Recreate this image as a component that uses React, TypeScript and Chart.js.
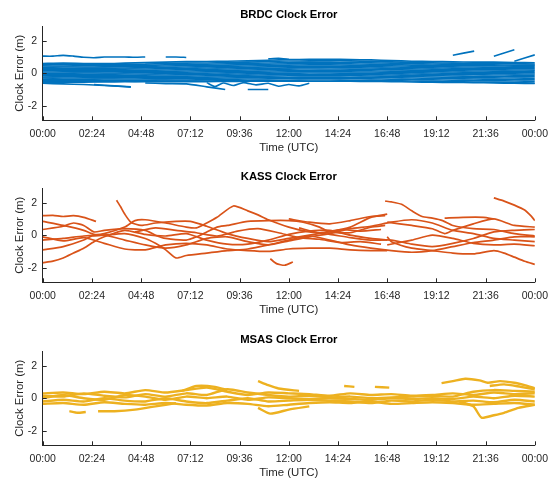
import React, { useEffect, useRef } from 'react';
import { Chart, registerables } from 'chart.js';

Chart.register(...registerables);

// ---------- axes ----------
const HOURS = [0, 1, 2, 3, 4, 5, 6, 7, 8, 9, 10, 11, 12, 13, 14, 15, 16, 17, 18, 19, 20, 21, 22, 23, 24];
const X_TICKS = [0, 2.4, 4.8, 7.2, 9.6, 12, 14.4, 16.8, 19.2, 21.6, 24];
const X_TICK_LABELS = ['00:00', '02:24', '04:48', '07:12', '09:36', '12:00', '14:24', '16:48', '19:12', '21:36', '00:00'];
const Y_TICKS = [-2, 0, 2];
const Y_MIN = -2.9;
const Y_MAX = 2.9;

const TITLES = ['BRDC Clock Error', 'KASS Clock Error', 'MSAS Clock Error'];
const X_LABEL = 'Time (UTC)';
const Y_LABEL = 'Clock Error (m)';

type Pt = [number, number];
type Val = number | null;

// ---------- BRDC (hourly values, m) ----------
const BRDC_1: Val[] = [0.6, 0.62, 0.6, 0.59, 0.62, 0.65, 0.68, 0.71, 0.72, 0.74, 0.76, 0.8, 0.84, 0.85, 0.86, 0.84, 0.82, 0.78, 0.74, 0.72, 0.7, 0.68, 0.68, 0.66, 0.64];
const BRDC_2: Val[] = [0.52, 0.53, 0.54, 0.52, 0.55, 0.56, 0.6, 0.62, 0.63, 0.66, 0.68, 0.72, 0.75, 0.76, 0.77, 0.76, 0.73, 0.7, 0.66, 0.64, 0.62, 0.61, 0.6, 0.58, 0.57];
const BRDC_3: Val[] = [0.45, 0.44, 0.46, 0.45, 0.47, 0.48, 0.52, 0.54, 0.55, 0.58, 0.6, 0.63, 0.66, 0.68, 0.68, 0.67, 0.64, 0.62, 0.58, 0.57, 0.55, 0.54, 0.52, 0.5, 0.5];
const BRDC_4: Val[] = [0.37, 0.38, 0.38, 0.39, 0.4, 0.41, 0.44, 0.46, 0.47, 0.5, 0.52, 0.55, 0.58, 0.6, 0.59, 0.58, 0.56, 0.54, 0.5, 0.49, 0.47, 0.46, 0.45, 0.43, 0.42];
const BRDC_5: Val[] = [0.3, 0.3, 0.31, 0.31, 0.32, 0.34, 0.36, 0.38, 0.4, 0.42, 0.44, 0.47, 0.5, 0.51, 0.51, 0.5, 0.48, 0.46, 0.43, 0.41, 0.39, 0.38, 0.37, 0.36, 0.35];
const BRDC_6: Val[] = [0.22, 0.23, 0.23, 0.24, 0.25, 0.26, 0.28, 0.3, 0.32, 0.34, 0.36, 0.39, 0.41, 0.43, 0.43, 0.42, 0.4, 0.38, 0.35, 0.33, 0.31, 0.3, 0.29, 0.28, 0.27];
const BRDC_7: Val[] = [0.15, 0.15, 0.16, 0.16, 0.17, 0.18, 0.2, 0.22, 0.24, 0.26, 0.28, 0.3, 0.33, 0.34, 0.35, 0.34, 0.32, 0.3, 0.27, 0.25, 0.23, 0.22, 0.21, 0.2, 0.19];
const BRDC_8: Val[] = [0.07, 0.08, 0.08, 0.09, 0.1, 0.11, 0.12, 0.14, 0.16, 0.18, 0.2, 0.22, 0.25, 0.26, 0.26, 0.25, 0.24, 0.22, 0.19, 0.17, 0.15, 0.14, 0.13, 0.12, 0.11];
const BRDC_9: Val[] = [0, 0, 0.01, 0.01, 0.02, 0.03, 0.05, 0.06, 0.08, 0.1, 0.12, 0.14, 0.16, 0.17, 0.18, 0.17, 0.15, 0.13, 0.11, 0.09, 0.07, 0.06, 0.05, 0.04, 0.03];
const BRDC_10: Val[] = [-0.08, -0.07, -0.07, -0.06, -0.05, -0.05, -0.03, -0.02, 0, 0.02, 0.04, 0.06, 0.08, 0.09, 0.09, 0.08, 0.07, 0.05, 0.03, 0.01, -0.01, -0.02, -0.03, -0.04, -0.05];
const BRDC_11: Val[] = [-0.15, -0.15, -0.14, -0.14, -0.13, -0.12, -0.11, -0.1, -0.08, -0.06, -0.04, -0.02, 0, 0.01, 0.01, 0, -0.01, -0.03, -0.05, -0.07, -0.09, -0.1, -0.11, -0.12, -0.13];
const BRDC_12: Val[] = [-0.23, -0.22, -0.22, -0.21, -0.2, -0.2, -0.19, -0.18, -0.16, -0.14, -0.12, -0.1, -0.08, -0.08, -0.07, -0.08, -0.09, -0.11, -0.13, -0.15, -0.17, -0.19, -0.2, -0.21, -0.22];
const BRDC_13: Val[] = [-0.3, -0.3, -0.29, -0.29, -0.28, -0.27, -0.27, -0.26, -0.24, -0.22, -0.2, -0.18, -0.16, -0.16, -0.15, -0.16, -0.17, -0.19, -0.21, -0.23, -0.26, -0.28, -0.29, -0.3, -0.31];
const BRDC_14: Val[] = [-0.38, -0.37, -0.37, -0.36, -0.36, -0.35, -0.35, -0.34, -0.32, -0.3, -0.28, -0.26, -0.25, -0.24, -0.24, -0.25, -0.26, -0.28, -0.3, -0.32, -0.34, -0.36, -0.38, -0.39, -0.4];
const BRDC_15: Val[] = [-0.45, -0.45, -0.44, -0.44, -0.43, -0.43, -0.42, -0.42, -0.4, -0.38, -0.36, -0.35, -0.34, -0.33, -0.33, -0.34, -0.35, -0.37, -0.39, -0.41, -0.43, -0.45, -0.47, -0.48, -0.5];
const BRDC_16: Val[] = [-0.52, -0.52, -0.51, -0.5, -0.5, -0.5, -0.49, -0.49, -0.48, -0.47, -0.45, -0.44, -0.43, -0.42, -0.42, -0.43, -0.44, -0.46, -0.48, -0.5, -0.52, -0.54, -0.56, -0.58, -0.6];
const BRDC_17: Val[] = [-0.56, -0.55, -0.55, -0.54, -0.53, -0.53, -0.52, -0.52, -0.52, -0.51, -0.5, -0.5, -0.5, -0.5, -0.5, -0.5, -0.51, -0.52, -0.54, -0.56, -0.57, -0.58, -0.6, -0.62, -0.63];
const BRDC_BAND = [BRDC_1, BRDC_2, BRDC_3, BRDC_4, BRDC_5, BRDC_6, BRDC_7, BRDC_8, BRDC_9, BRDC_10, BRDC_11, BRDC_12, BRDC_13, BRDC_14, BRDC_15, BRDC_16, BRDC_17];

// BRDC arcs outside the main band: [hour, metres]
const BRDC_HIGH_A: Pt[] = [[0, 1.05], [0.5, 1.05], [1, 1.1], [1.5, 1.05], [2, 0.98], [2.5, 0.95], [3, 1.0], [3.5, 1.0], [4, 1.0], [4.5, 0.98], [5, 1.0]];
const BRDC_HIGH_B: Pt[] = [[6.0, 1.0], [6.5, 1.0], [7.0, 0.97]];
const BRDC_HIGH_C: Pt[] = [[11.0, 0.88], [11.5, 0.92], [12.0, 0.86]];
const BRDC_LOW_A: Pt[] = [[0, -0.62], [1, -0.66], [2, -0.7], [3, -0.76], [4.3, -0.83]];
const BRDC_LOW_B: Pt[] = [[2.5, -0.7], [3.5, -0.78], [4.3, -0.86]];
const BRDC_LOW_C: Pt[] = [[5.0, -0.6], [6, -0.64], [7, -0.66], [8, -0.84], [8.9, -1.0]];
const BRDC_LOW_D: Pt[] = [[8, -0.58], [8.4, -0.82], [8.8, -0.6], [9.3, -0.76], [9.8, -0.58], [10.4, -0.72], [11, -0.62], [11.5, -0.8], [12, -0.7], [12.5, -0.78], [13, -0.62]];
const BRDC_LOW_E: Pt[] = [[10, -1.0], [11, -1.0]];
const BRDC_RISE_A: Pt[] = [[20, 1.11], [21.04, 1.36]];
const BRDC_RISE_B: Pt[] = [[22, 1.05], [23, 1.44]];
const BRDC_RISE_C: Pt[] = [[23, 0.74], [24, 1.13]];
const BRDC_ARCS = [BRDC_HIGH_A, BRDC_HIGH_B, BRDC_HIGH_C, BRDC_LOW_A, BRDC_LOW_B, BRDC_LOW_C, BRDC_LOW_D, BRDC_LOW_E, BRDC_RISE_A, BRDC_RISE_B, BRDC_RISE_C];

// ---------- KASS: [hour, metres] ----------
const KASS_1: Pt[] = [[0, 1.2], [0.5, 1.22], [1, 1.15], [1.5, 1.2], [2, 1.1], [2.6, 0.85]];
const KASS_2: Pt[] = [[0, 0.85], [1, 0.6], [2, 0.3], [2.5, 0.05], [3, 0.1], [4, 0.5], [4.5, 0.9], [5, 0.95], [6, 0.75], [7, 0.5], [7.5, 0.45], [8, 0.75], [8.5, 1.1], [9.3, 1.8], [10, 1.5], [10.5, 1.25], [11, 0.95], [12, 0.5], [13, 0.2], [14, 0.05], [15, -0.15], [16, -0.3], [17, -0.3], [18, -0.55], [19, -0.7], [20, -0.5], [21, -0.2], [22, 0.2], [23, 0.3], [24, 0.35]];
const KASS_3: Pt[] = [[0, 0.35], [1, 0.55], [1.5, 0.75], [2, 0.6], [2.5, 0.2], [3, 0.3], [4, 0.4], [5, 0.3], [5.5, 0.0], [6, -0.2], [7, -0.3], [7.5, -0.1], [8, 0.2], [8.5, 0.5], [9, 0.6], [10, 0.85], [11, 0.9], [12, 0.9], [12.7, 0.8], [13.5, 0.5], [14, 0.2], [15, 0.15], [16, 0.5], [16.7, 0.6]];
const KASS_4: Pt[] = [[3.6, 2.15], [3.8, 1.75], [4.0, 1.3], [4.3, 0.8], [4.8, 0.6], [5.5, 0.75], [6.5, 0.85], [7.2, 0.85], [8, 0.55], [9, 0.1], [10, -0.2], [11, -0.4], [12, -0.2], [13, 0.0], [14, 0.2], [15, 0.5], [16, 1.1], [16.8, 1.3]];
const KASS_5: Pt[] = [[0, -0.3], [1, -0.2], [2, -0.05], [3, 0.0], [4, -0.3], [5, -0.6], [6, -0.8], [7, -0.6], [8, -0.2], [9, -0.1], [10, -0.4], [11, -0.6], [12, -0.35], [13, -0.1], [14, 0.1], [15, 0.4], [16, 0.55], [17, 0.8], [18, 0.95], [19, 0.75], [20, 0.3], [21, 0.1], [22, -0.2], [23, -0.3], [24, -0.4]];
const KASS_6: Pt[] = [[0, -0.9], [1, -0.7], [2, -0.3], [2.4, -0.05], [3, 0.0], [4, 0.1], [5, -0.2], [5.5, -0.5], [6, -0.9], [6.5, -1.4], [7, -1.25], [8, -1.1], [9, -0.95], [10, -0.85], [11, -0.6], [12, -0.3], [13, -0.05], [14, -0.3], [15, -0.6], [16, -0.8], [17, -0.95], [18, -1.05], [19, -0.95], [20, -0.7], [21, -0.45], [22, -0.3], [23, -0.1], [24, -0.1]];
const KASS_7: Pt[] = [[0, -1.7], [0.5, -1.6], [1, -1.4], [1.5, -1.1], [2, -0.8], [2.5, -0.4], [3, -0.1], [4, 0.3], [5, 0.05], [6, -0.05], [7, 0.1], [8, -0.3], [9, -0.55], [10, -0.55], [11, -0.3], [12, 0.05], [13, 0.25], [14, 0.3], [15, 0.0], [16, -0.2], [16.8, -0.3]];
const KASS_8: Pt[] = [[0, -0.1], [1, -0.35], [2, -0.15], [3, -0.5], [4, -0.85], [5, -0.9], [6, -0.6], [7, -0.5], [8, -0.6], [9, -0.85], [10, -0.95], [11, -1.0], [12, -0.85], [13, -0.8], [14, -0.8], [15, -0.9], [16, -0.95], [16.8, -0.95]];
const KASS_9: Pt[] = [[11.1, -1.45], [11.4, -1.75], [11.8, -1.85], [12.2, -1.65]];
const KASS_10: Pt[] = [[16.7, 2.1], [17, 2.05], [17.5, 1.9], [18, 1.5], [18.5, 1.15], [19, 1.05], [19.5, 0.9], [20, 0.6], [21, 0.4], [22, 0.35], [23, 0.1], [24, -0.05]];
const KASS_11: Pt[] = [[22, 2.3], [22.5, 2.1], [23, 1.85], [23.5, 1.55], [23.8, 1.2], [24, 0.9]];
const KASS_12: Pt[] = [[16.8, -0.1], [17, -0.4], [18, -0.8], [19, -0.95], [20, -1.1], [21, -1.15], [22, -0.95], [22.5, -1.1], [23, -1.35], [23.5, -1.6], [24, -1.8]];
const KASS_13: Pt[] = [[16.8, 0.8], [18, 0.6], [19, 0.4], [19.6, 0.1], [20, 0.3], [21, 0.7], [22, 1.0], [23, 0.6], [24, 0.5]];
const KASS_14: Pt[] = [[19.6, 1.05], [20.5, 1.1], [21.5, 1.1], [22, 1.0]];
const KASS_15: Pt[] = [[12, 1.0], [13, 0.8], [14, 0.7], [15, 0.9], [16, 1.15], [16.7, 1.2]];
const KASS_16: Pt[] = [[16.8, -0.6], [18, -0.3], [19, 0.0], [20, -0.2], [21, -0.5], [22, -0.6], [23, -0.55], [24, -0.65]];
const KASS_17: Pt[] = [[4.5, 0.2], [5.5, 0.45], [6.5, 0.3], [7.5, 0.15], [8.5, -0.05], [9.5, 0.25], [10.5, 0.4], [11.5, 0.15], [12.5, -0.15], [13.5, -0.25], [14.5, -0.45], [15.5, -0.4], [16.5, -0.55]];
const KASS_18: Pt[] = [[12.5, 0.45], [13.5, 0.15], [14.5, 0.35], [15.5, 0.25], [16.5, 0.35]];
const KASS_TRACES = [KASS_1, KASS_2, KASS_3, KASS_4, KASS_5, KASS_6, KASS_7, KASS_8, KASS_9, KASS_10, KASS_11, KASS_12, KASS_13, KASS_14, KASS_15, KASS_16, KASS_17, KASS_18];

// ---------- MSAS: [hour, metres] ----------
const MSAS_1: Pt[] = [[0, 0.3], [1, 0.35], [2, 0.25], [3, 0.4], [4, 0.3], [5, 0.5], [6, 0.35], [7, 0.5], [8, 0.65], [9, 0.4], [10, 0.2], [11, 0.35], [12, 0.3], [13, 0.25], [14, 0.15], [15, 0.3], [16, 0.2], [17, 0.25], [18, 0.15], [19, 0.2], [20, 0.3], [21, 0.2], [22, 0.35], [23, 0.25], [24, 0.3]];
const MSAS_2: Pt[] = [[0, 0.15], [1, 0.1], [2, 0.3], [3, 0.15], [4, 0.05], [5, 0.25], [6, 0.1], [7, 0.3], [8, 0.2], [9, 0.55], [10, 0.35], [11, 0.2], [12, 0.1], [13, 0.15], [14, 0.05], [15, 0.1], [16, 0.0], [17, 0.05], [18, 0.1], [19, 0.15], [20, 0.1], [21, 0.4], [22, 0.5], [23, 0.45], [24, 0.4]];
const MSAS_3: Pt[] = [[0, 0.0], [1, 0.2], [2, 0.0], [3, -0.1], [4, 0.2], [5, 0.1], [6, -0.1], [7, 0.1], [8, 0.0], [9, 0.1], [10, -0.1], [11, 0.05], [12, 0.0], [13, -0.05], [14, 0.0], [15, -0.05], [16, -0.1], [17, 0.0], [18, -0.05], [19, 0.0], [20, -0.05], [21, 0.1], [22, 0.0], [23, 0.15], [24, 0.1]];
const MSAS_4: Pt[] = [[0, -0.2], [1, -0.1], [2, -0.2], [3, 0.0], [4, -0.15], [5, -0.2], [6, 0.0], [7, -0.2], [8, -0.3], [9, -0.15], [10, 0.0], [11, -0.2], [12, -0.15], [13, -0.1], [14, -0.15], [15, -0.2], [16, -0.3], [17, -0.15], [18, -0.2], [19, -0.1], [20, -0.2], [21, -0.15], [22, -0.25], [23, -0.1], [24, -0.2]];
const MSAS_5: Pt[] = [[0, -0.35], [1, -0.3], [2, -0.4], [3, -0.25], [4, -0.35], [5, -0.4], [6, -0.3], [7, -0.4], [8, -0.45], [9, -0.3], [10, -0.35], [11, -0.5], [12, -0.4], [13, -0.3], [14, -0.25], [15, -0.3], [16, -0.2], [17, -0.35], [18, -0.3], [19, -0.25], [20, -0.3], [21, -0.4], [22, -0.35], [23, -0.3], [24, -0.4]];
const MSAS_6: Pt[] = [[1.3, -0.8], [1.7, -0.9], [2.1, -0.85]];
const MSAS_7: Pt[] = [[2.7, -0.8], [3.5, -0.8], [4.5, -0.7], [5.5, -0.5], [6.5, -0.3]];
const MSAS_8: Pt[] = [[10.5, -0.6], [11.1, -0.95], [12, -0.7], [13, -0.5]];
const MSAS_9: Pt[] = [[6.8, 0.45], [7.5, 0.75], [8.4, 0.7], [9, 0.5]];
const MSAS_10: Pt[] = [[10.5, 1.05], [11, 0.8], [11.5, 0.6], [12.5, 0.45]];
const MSAS_11: Pt[] = [[14.7, 0.75], [15.2, 0.7]];
const MSAS_12: Pt[] = [[16.2, 0.7], [16.9, 0.65]];
const MSAS_13: Pt[] = [[19.45, 0.93], [20, 1.05], [20.6, 1.2], [21.3, 1.1], [21.7, 0.95], [22.3, 1.05], [23, 0.95], [23.5, 0.8], [24, 0.62]];
const MSAS_14: Pt[] = [[21.8, 0.75], [22.5, 0.85], [23.3, 0.7], [24, 0.55]];
const MSAS_15: Pt[] = [[20.3, -0.2], [21, -0.5], [21.4, -1.2], [22, -1.05], [22.5, -0.9], [23.2, -0.6], [24, -0.4]];
const MSAS_TRACES = [MSAS_1, MSAS_2, MSAS_3, MSAS_4, MSAS_5, MSAS_6, MSAS_7, MSAS_8, MSAS_9, MSAS_10, MSAS_11, MSAS_12, MSAS_13, MSAS_14, MSAS_15];

// ---------- styling ----------
const COLORS = ['#0072BD', '#D95319', '#EDB120'];
const AXIS_COLOR = '#262626';
const TEXT_COLOR = '#262626';
const FONT = '"Liberation Sans", Arial, Helvetica, sans-serif';

const fromGrid = (vals: Val[]) => vals.map((v, i) => ({ x: HOURS[i], y: v }));
const fromPts = (pts: Pt[]) => pts.map(([x, y]) => ({ x, y }));

const decorPlugin = {
  id: 'decor',
  afterDraw(chart: any, _args: any, opts: any) {
    const { ctx, chartArea } = chart;
    const { left, right, top, bottom } = chartArea;
    const xs = chart.scales.x;
    const ys = chart.scales.y;
    ctx.save();
    ctx.strokeStyle = AXIS_COLOR;
    ctx.lineWidth = 1;
    ctx.beginPath();
    X_TICKS.forEach((v) => {
      const px = Math.round(xs.getPixelForValue(v)) + 0.5;
      ctx.moveTo(px, bottom);
      ctx.lineTo(px, bottom - 4);
    });
    Y_TICKS.forEach((v) => {
      const py = Math.round(ys.getPixelForValue(v)) + 0.5;
      ctx.moveTo(left, py);
      ctx.lineTo(left + 4, py);
    });
    ctx.stroke();
    ctx.textAlign = 'center';
    ctx.textBaseline = 'middle';
    ctx.fillStyle = '#000';
    ctx.font = `bold 11.3px ${FONT}`;
    ctx.fillText(opts.title, (left + right) / 2, 15);
    ctx.fillStyle = TEXT_COLOR;
    ctx.font = `11.4px ${FONT}`;
    ctx.fillText(X_LABEL, (left + right) / 2, 148);
    ctx.translate(20, (top + bottom) / 2);
    ctx.rotate(-Math.PI / 2);
    ctx.fillText(Y_LABEL, 0, 0);
    ctx.restore();
  },
};

type PanelProps = { top: number; title: string; color: string; datasets: { x: number; y: Val }[][]; lineWidth: number };

function Panel({ top, title, color, datasets, lineWidth }: PanelProps) {
  const ref = useRef<HTMLCanvasElement | null>(null);
  useEffect(() => {
    if (!ref.current) return;
    const chart = new Chart(ref.current, {
      type: 'line',
      data: {
        datasets: datasets.map((d) => ({
          data: d as any,
          borderColor: color,
          backgroundColor: color,
          borderWidth: lineWidth,
          pointRadius: 0,
          fill: false,
          tension: 0.2,
          spanGaps: false,
        })),
      },
      options: {
        animation: false,
        responsive: false,
        events: [],
        layout: { padding: { top: 26.1, right: 18.7, left: 0, bottom: 0 } },
        plugins: {
          legend: { display: false },
          title: { display: false },
          tooltip: { enabled: false },
          decor: { title },
        } as any,
        scales: {
          x: {
            type: 'linear',
            min: 0,
            max: 24,
            grid: { display: false, drawTicks: false },
            border: { display: true, color: AXIS_COLOR, width: 1 },
            ticks: {
              autoSkip: false,
              maxRotation: 0,
              padding: 8,
              color: TEXT_COLOR,
              font: { family: FONT, size: 10.5 },
              callback: (v: any) => {
                const i = X_TICKS.findIndex((t) => Math.abs(t - Number(v)) < 1e-6);
                return i >= 0 ? X_TICK_LABELS[i] : '';
              },
            },
            afterBuildTicks: (s: any) => {
              s.ticks = X_TICKS.map((value) => ({ value }));
            },
            afterFit: (s: any) => {
              s.height = 41.7;
            },
          },
          y: {
            type: 'linear',
            min: Y_MIN,
            max: Y_MAX,
            grid: { display: false, drawTicks: false },
            border: { display: true, color: AXIS_COLOR, width: 1 },
            ticks: {
              padding: 5.5,
              color: TEXT_COLOR,
              font: { family: FONT, size: 10.5 },
            },
            afterBuildTicks: (s: any) => {
              s.ticks = Y_TICKS.map((value) => ({ value }));
            },
            afterFit: (s: any) => {
              s.width = 42.7;
            },
          },
        },
      },
      plugins: [decorPlugin],
    });
    return () => chart.destroy();
  }, [title, color, datasets, lineWidth]);
  return (
    <canvas
      ref={ref}
      width={556}
      height={162}
      style={{ position: 'absolute', left: 0, top, width: 556, height: 162, display: 'block' }}
    />
  );
}

const BRDC_DATA = [...BRDC_BAND.map(fromGrid), ...BRDC_ARCS.map(fromPts)];
const KASS_DATA = KASS_TRACES.map(fromPts);
const MSAS_DATA = MSAS_TRACES.map(fromPts);

export default function App() {
  return (
    <div style={{ position: 'absolute', left: 0, top: 0, width: 556, height: 479, background: '#fff', overflow: 'hidden' }}>
      <Panel top={0} title={TITLES[0]} color={COLORS[0]} datasets={BRDC_DATA} lineWidth={1.6} />
      <Panel top={162} title={TITLES[1]} color={COLORS[1]} datasets={KASS_DATA} lineWidth={1.7} />
      <Panel top={325} title={TITLES[2]} color={COLORS[2]} datasets={MSAS_DATA} lineWidth={2.4} />
    </div>
  );
}
